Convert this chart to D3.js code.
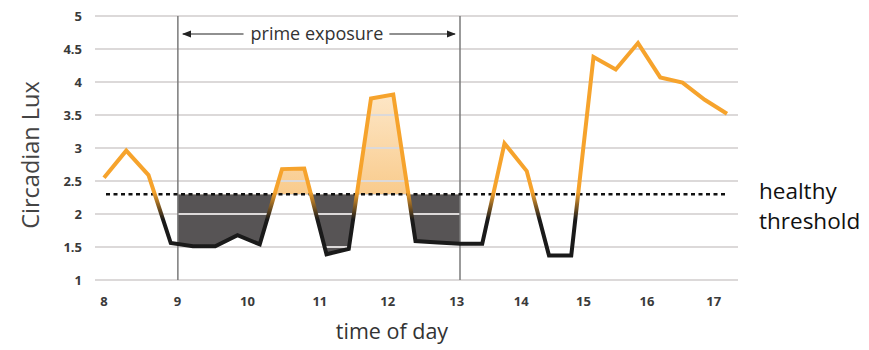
<!DOCTYPE html>
<html>
<head>
<meta charset="utf-8">
<script src="https://cdn.jsdelivr.net/npm/d3@7"></script>
<style>
  html, body { margin: 0; padding: 0; background: #fff; }
  svg { display: block; }
</style>
</head>
<body>
<svg id="chart" width="869" height="350"></svg>
<script>
// ---- data ----
// sample index (evenly spaced readings)
const samples = d3.range(29);
const lux = [2.55, 2.96, 2.59, 1.56, 1.51, 1.51, 1.68, 1.54, 2.68, 2.69,
             1.39, 1.47, 3.75, 3.81, 1.59, 1.57, 1.55, 1.55, 3.07, 2.65,
             1.37, 1.37, 4.38, 4.19, 4.59, 4.07, 3.99, 3.73, 3.52];
const xTickLabels = ["8", "9", "10", "11", "12", "13", "14", "15", "16", "17"];
const xTickAt = [0, 3.3, 6.45, 9.7, 12.75, 15.85, 18.75, 21.55, 24.4, 27.4]; // in sample units
const yTicks = [1, 1.5, 2, 2.5, 3, 3.5, 4, 4.5, 5];
const threshold = 2.3;
const primeStart = 3.32, primeEnd = 16; // sample units (9:00 and 13:00)

const W = 869, H = 350;
const svg = d3.select("#chart");
const x = d3.scaleLinear().domain([0, 28]).range([104, 727]);
const y = d3.scaleLinear().domain([1, 5]).range([280, 16]);

const orange = "#F6A32C";
const defs = svg.append("defs");

// line gradient: orange above threshold, black below
const lg = defs.append("linearGradient").attr("id", "lineGrad")
  .attr("gradientUnits", "userSpaceOnUse")
  .attr("x1", 0).attr("x2", 0)
  .attr("y1", y(threshold) - 2).attr("y2", y(threshold - 0.38));
lg.append("stop").attr("offset", 0).attr("stop-color", orange);
lg.append("stop").attr("offset", 1).attr("stop-color", "#1a1a1a");

// fill gradient above threshold
const fg = defs.append("linearGradient").attr("id", "fillGrad")
  .attr("gradientUnits", "userSpaceOnUse")
  .attr("x1", 0).attr("x2", 0)
  .attr("y1", y(3.85)).attr("y2", y(threshold));
fg.append("stop").attr("offset", 0).attr("stop-color", "#FDE7C8");
fg.append("stop").attr("offset", 1).attr("stop-color", "#F9CB8C");

const xs = x(primeStart), xe = x(primeEnd);
defs.append("clipPath").attr("id", "clipAbove").append("rect")
  .attr("x", xs).attr("y", 0).attr("width", xe - xs).attr("height", y(threshold));
defs.append("clipPath").attr("id", "clipBelow").append("rect")
  .attr("x", xs).attr("y", y(threshold)).attr("width", xe - xs).attr("height", H - y(threshold));

// areas between the curve and threshold
const area = d3.area().x((d, i) => x(samples[i])).y0(y(threshold)).y1(d => y(d));
svg.append("path").datum(lux).attr("d", area)
  .attr("fill", "url(#fillGrad)").attr("clip-path", "url(#clipAbove)");
svg.append("path").datum(lux).attr("d", area)
  .attr("fill", "#575455").attr("clip-path", "url(#clipBelow)");

// gridlines
const gx0 = x.range()[0] - 9, gx1 = x.range()[1] + 11;
svg.append("g").selectAll("line").data(yTicks).join("line")
  .attr("x1", gx0).attr("x2", gx1)
  .attr("y1", d => y(d)).attr("y2", d => y(d))
  .attr("stroke", "#dcd9d9").attr("stroke-width", 2);

// y tick labels
svg.append("g").selectAll("text").data(yTicks).join("text")
  .attr("x", 82).attr("y", d => y(d)).attr("dy", "0.35em")
  .attr("text-anchor", "end")
  .attr("font-family", "Open Sans, sans-serif").attr("font-weight", 700)
  .attr("font-size", 13).attr("fill", "#3a3a3a")
  .text(d => d);

// x tick labels
svg.append("g").selectAll("text").data(xTickLabels).join("text")
  .attr("x", (d, i) => x(xTickAt[i])).attr("y", 306)
  .attr("text-anchor", "middle")
  .attr("font-family", "Open Sans, sans-serif").attr("font-weight", 700)
  .attr("font-size", 13).attr("fill", "#3a3a3a")
  .text(d => d);

// prime exposure vertical lines
svg.append("g").selectAll("line").data([primeStart, primeEnd]).join("line")
  .attr("x1", d => x(d)).attr("x2", d => x(d))
  .attr("y1", y(5)).attr("y2", y(1))
  .attr("stroke", "#7a7a7a").attr("stroke-width", 1.5);

// threshold dotted line
svg.append("line")
  .attr("x1", x(0) + 2).attr("x2", x(28) + 1)
  .attr("y1", y(threshold)).attr("y2", y(threshold))
  .attr("stroke", "#111").attr("stroke-width", 2.5)
  .attr("stroke-dasharray", "4,3.5");

// data line
const line = d3.line().x((d, i) => x(samples[i])).y(d => y(d));
svg.append("path").datum(lux).attr("d", line)
  .attr("fill", "none").attr("stroke", "url(#lineGrad)")
  .attr("stroke-width", 4).attr("stroke-linejoin", "miter").attr("stroke-miterlimit", 3);

// prime exposure annotation
defs.append("marker").attr("id", "arrow").attr("viewBox", "0 0 10 10")
  .attr("refX", 9).attr("refY", 5).attr("markerWidth", 9).attr("markerHeight", 9)
  .attr("markerUnits", "userSpaceOnUse").attr("orient", "auto")
  .append("path").attr("d", "M0,1 L10,5 L0,9 Z").attr("fill", "#222");
const ay = 34;
const tx = (xs + xe) / 2 - 2;
const label = svg.append("text")
  .attr("x", tx).attr("y", ay).attr("dy", "0.32em")
  .attr("text-anchor", "middle")
  .attr("font-family", "Open Sans, sans-serif").attr("font-size", 18)
  .attr("fill", "#333").text("prime exposure");
const bb = label.node().getBBox();
svg.append("line").attr("x1", bb.x - 7).attr("x2", xs + 5).attr("y1", ay).attr("y2", ay)
  .attr("stroke", "#222").attr("stroke-width", 1.2).attr("marker-end", "url(#arrow)");
svg.append("line").attr("x1", bb.x + bb.width + 6).attr("x2", xe - 5).attr("y1", ay).attr("y2", ay)
  .attr("stroke", "#222").attr("stroke-width", 1.2).attr("marker-end", "url(#arrow)");

// axis titles
svg.append("text")
  .attr("transform", `translate(39, ${(y(1) + y(5)) / 2 + 7}) rotate(-90)`)
  .attr("text-anchor", "middle")
  .attr("font-family", "Open Sans, sans-serif").attr("font-size", 23.5)
  .attr("fill", "#444").text("Circadian Lux");
svg.append("text")
  .attr("x", 392).attr("y", 339).attr("text-anchor", "middle")
  .attr("font-family", "Open Sans, sans-serif").attr("font-size", 21.5)
  .attr("fill", "#333").text("time of day");

// threshold label
const tl = svg.append("text")
  .attr("font-family", "Open Sans, sans-serif").attr("font-size", 22.5)
  .attr("fill", "#111");
tl.append("tspan").attr("x", 759).attr("y", 199).text("healthy");
tl.append("tspan").attr("x", 759).attr("y", 229).text("threshold");
</script>
</body>
</html>
